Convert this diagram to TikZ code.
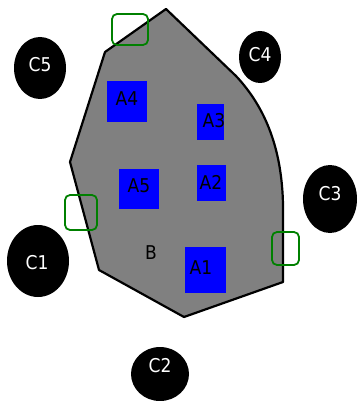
\documentclass[tikz,border=0pt]{standalone}
\usepackage{fontspec}
\setmainfont{DejaVu Sans Condensed}
\begin{document}
\begin{tikzpicture}[x=1pt,y=-1pt,
  circ/.style={text=white,font=\fontsize{19}{19}\selectfont,inner sep=0pt},
  lab/.style={text=black,font=\fontsize{19}{19}\selectfont,inner sep=0pt},
  grn/.style={draw=green!50!black,line width=1.8pt,rounded corners=5pt}]
\useasboundingbox (0,0) rectangle (357,401);
\path[fill=gray,draw=black,line width=2.2pt,line join=round]
  (166,9) -- (236,76) .. controls (266,108) and (282,150) .. (283,205)
  -- (283,282) -- (184,317) -- (99,270) -- (70,162) -- (105,52) -- cycle;
% blue squares
\fill[blue] (107,81) rectangle (147,122);
\fill[blue] (197,104) rectangle (224,140);
\fill[blue] (119,169) rectangle (159,209);
\fill[blue] (197,165) rectangle (226,201);
\fill[blue] (185,247) rectangle (226,293);
\node[lab] (a4) at (127,99) {A4};
\node[lab] (a3) at (214,121) {A3};
\node[lab] (a5) at (139,186) {A5};
\node[lab] (a2) at (211,182) {A2};
\node[lab] (a1) at (201,268) {A1};
\node[lab] (b) at (151,253) {B};
% green markers
\draw[grn] (112,14) rectangle (148,45);
\draw[grn] (65,195) rectangle (97,230);
\draw[grn] (272,232) rectangle (299,265);
% black circles
\fill (40,68) ellipse (26 and 31);
\node[circ] (c5) at (40,65) {C5};
\fill (260,57) ellipse (21 and 26);
\node[circ] (c4) at (260,55) {C4};
\fill (330,199) ellipse (27 and 34);
\node[circ] (c3) at (330,194) {C3};
\fill (38,261) ellipse (31 and 36);
\node[circ] (c1) at (37,263) {C1};
\fill (160,374) ellipse (29 and 27);
\node[circ] (c2) at (160,366) {C2};
\end{tikzpicture}
\end{document}
